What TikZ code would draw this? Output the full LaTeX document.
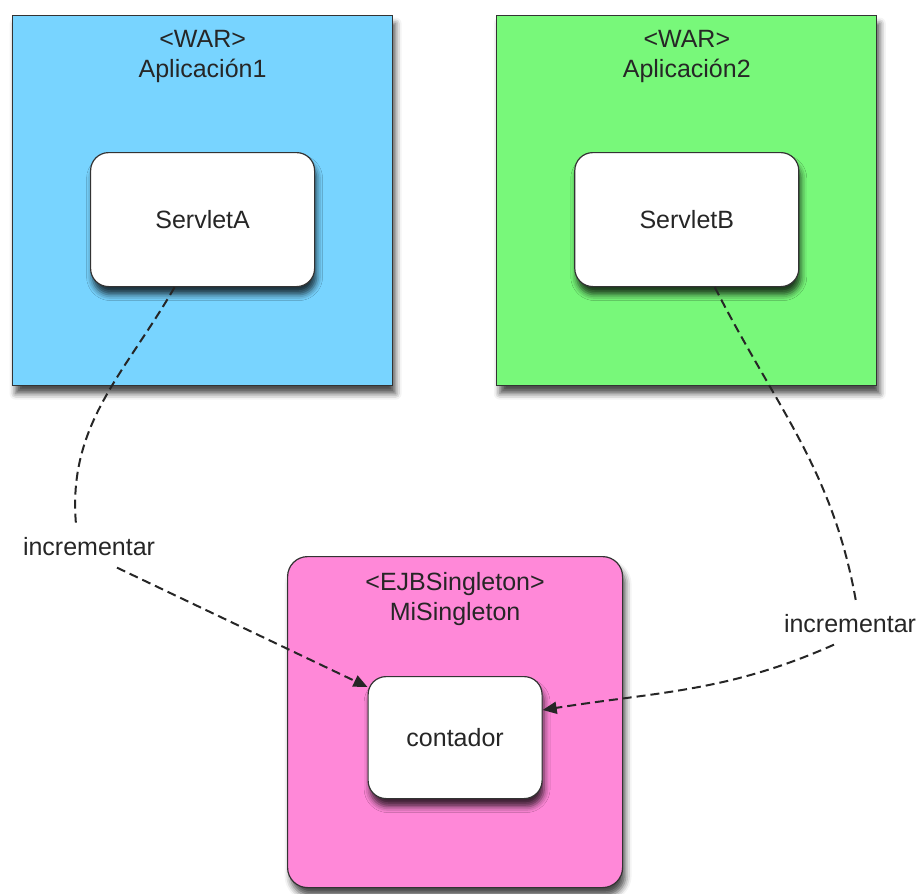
\documentclass[tikz,border=0pt]{standalone}
\usepackage{fontspec}
\setsansfont{Liberation Sans}
\usetikzlibrary{arrows.meta, positioning, shadows.blur}

\definecolor{warblue}{RGB}{120,212,255}
\definecolor{wargreen}{RGB}{120,248,122}
\definecolor{ejbpink}{RGB}{255,136,216}

\begin{document}
\begin{tikzpicture}[
    font=\sffamily\fontsize{12.5}{15}\selectfont,
    text=black!85,
    >={Triangle[length=7pt, width=6pt]},
    container/.style={
        draw=black!80,
        line width=0.6pt,
        inner sep=0pt,
        minimum width=190pt,
        minimum height=185pt,
        blur shadow={shadow xshift=1.5pt, shadow yshift=-4pt,
            shadow blur radius=3pt, shadow opacity=70}
    },
    component/.style={
        draw=black!80,
        line width=0.6pt,
        rounded corners=9pt,
        fill=white,
        inner sep=0pt,
        minimum width=112pt,
        minimum height=67pt,
        blur shadow={shadow xshift=1pt, shadow yshift=-4pt,
            shadow blur radius=3pt, shadow opacity=75}
    },
    title/.style={
        inner sep=0pt,
        align=center
    },
    msglabel/.style={
        inner sep=6pt,
        anchor=base
    },
    link/.style={
        dashed,
        dash pattern=on 4.5pt off 2.5pt,
        line width=1pt,
        black!85
    }
]

\useasboundingbox (0,0) rectangle (459pt,-447pt);

% =====================
% Web applications
% =====================

\node[container, fill=warblue, anchor=north west] (appA) at (6pt,-7.5pt) {};
\node[title, below=7.5pt of appA.north] (appAtitle) {<WAR>\\Aplicación1};
\node[component] (servletA) at ([yshift=-9.5pt]appA.center) {ServletA};

\node[container, fill=wargreen, right=51.5pt of appA] (appB) {};
\node[title, below=7.5pt of appB.north] (appBtitle) {<WAR>\\Aplicación2};
\node[component] (servletB) at ([yshift=-9.5pt]appB.center) {ServletB};

% =====================
% Singleton EJB
% =====================

\node[container, fill=ejbpink, rounded corners=10pt, anchor=north west,
    minimum width=167.5pt, minimum height=165.5pt] (ejb) at (143.5pt,-278pt) {};
\node[title, below=8pt of ejb.north] (ejbtitle) {<EJBSingleton>\\MiSingleton};
\node[component, minimum width=87pt, minimum height=61pt] (contador)
    at ([yshift=-7.75pt]ejb.center) {contador};

% =====================
% Calls
% =====================

\node[msglabel] (incA) at (44.5pt,-277.5pt) {incrementar};
\node[msglabel] (incB) at (425pt,-316pt) {incrementar};

\draw[link] ([xshift=-14pt]servletA.south) to[out=240, in=95] ([xshift=-6.5pt]incA.north);
\draw[link, ->] ([xshift=14pt]incA.south) -- ([yshift=-5.5pt]contador.north west);

\draw[link] ([xshift=14pt]servletB.south) to[out=297, in=100] ([xshift=3pt]incB.north);
\draw[link, ->] ([xshift=-8pt]incB.south) to[out=204, in=9] ([yshift=-17pt]contador.north east);

\end{tikzpicture}
\end{document}
